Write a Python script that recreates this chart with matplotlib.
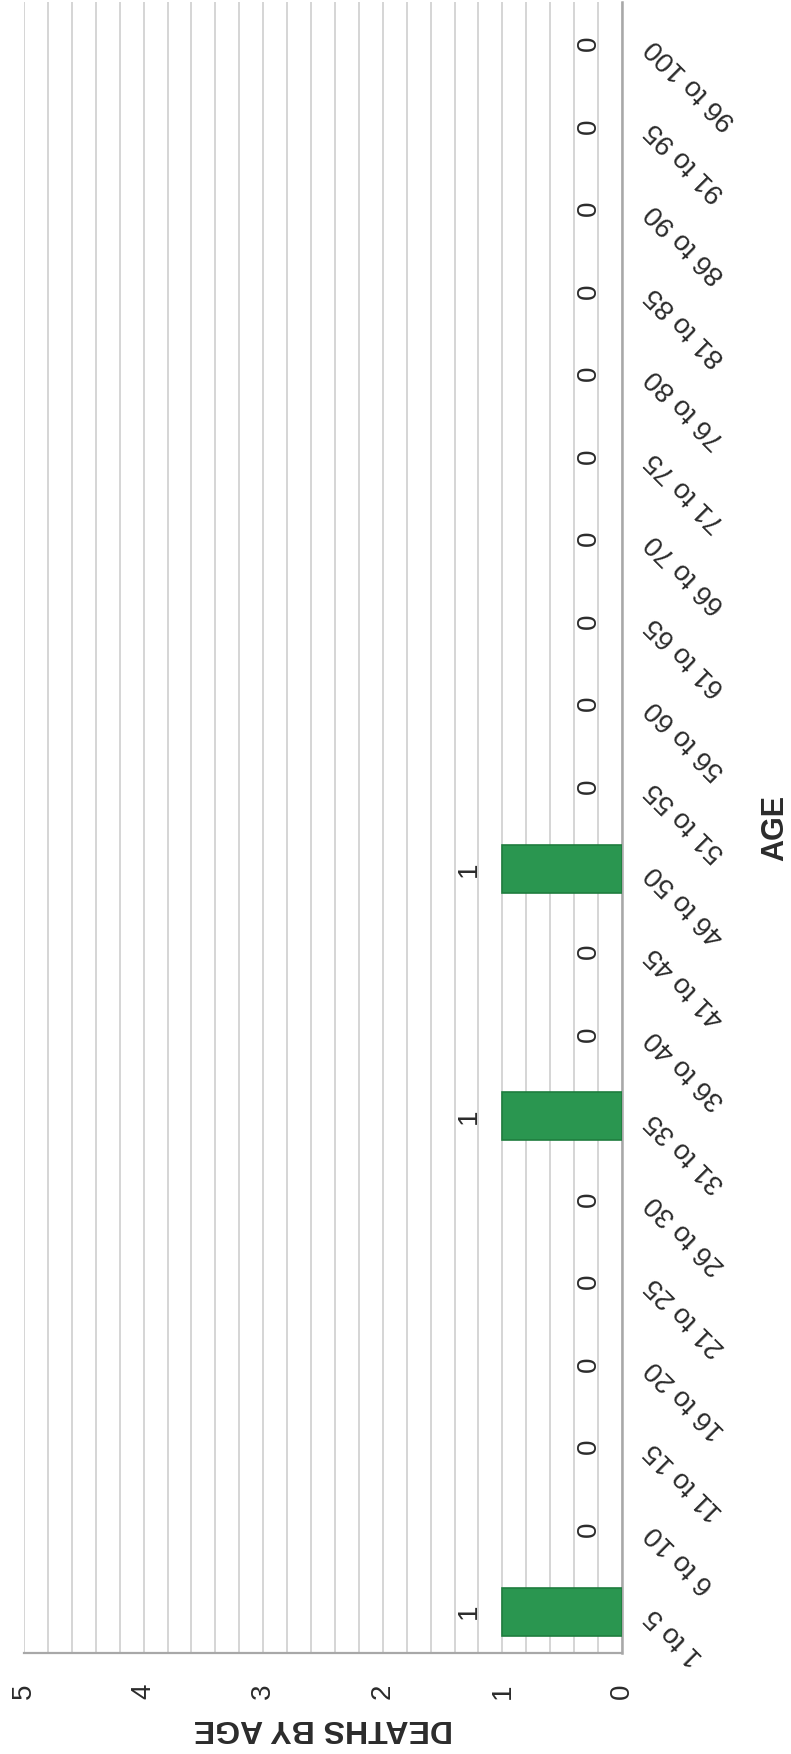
import matplotlib
matplotlib.use("Agg")
import matplotlib.pyplot as plt
import numpy as np
from matplotlib.ticker import MultipleLocator

plt.rcParams['font.family'] = ['Liberation Sans', 'DejaVu Sans']

categories = ["1 to 5", "6 to 10", "11 to 15", "16 to 20", "21 to 25", "26 to 30",
              "31 to 35", "36 to 40", "41 to 45", "46 to 50", "51 to 55", "56 to 60",
              "61 to 65", "66 to 70", "71 to 75", "76 to 80", "81 to 85", "86 to 90",
              "91 to 95", "96 to 100"]
deaths = [1, 0, 0, 0, 0, 0, 1, 0, 0, 1, 0, 0, 0, 0, 0, 0, 0, 0, 0, 0]
value_ticks = [0, 1, 2, 3, 4, 5]

W, H = 791, 1754
fig = plt.figure(figsize=(W / 100, H / 100), dpi=100)
left_px, right_px, top_px, bottom_px = 24, 622, 2, 1653
ax = fig.add_axes([left_px / W, 1 - bottom_px / H,
                   (right_px - left_px) / W, (bottom_px - top_px) / H])

text_col = '#2b2b2b'
grid_col = '#d2d2d2'
axis_col = '#a8a8a8'

y = np.arange(len(categories))
edge_widths = [1.2 if v else 0 for v in deaths]
bars = ax.barh(y, deaths, height=0.58, color='#2a9650', edgecolor='#1f7d3e',
               linewidth=edge_widths, zorder=3)

ax.set_xlim(5, 0)
ax.set_ylim(-0.5, len(categories) - 0.5)

# gridlines every 0.2
ax.xaxis.set_minor_locator(MultipleLocator(0.2))
ax.set_xticks(value_ticks)
ax.grid(True, axis='x', which='both', color=grid_col, linewidth=1.3, zorder=0)
ax.set_axisbelow(True)

for s in ['top', 'left']:
    ax.spines[s].set_visible(False)
ax.spines['bottom'].set_color(axis_col)
ax.spines['bottom'].set_linewidth(1.6)
ax.spines['right'].set_color(axis_col)
ax.spines['right'].set_linewidth(1.8)

# value axis labels (bottom), rotated
ax.tick_params(axis='x', which='both', length=0, pad=22, labelsize=20,
               labelcolor=text_col)
for lbl in ax.get_xticklabels():
    lbl.set_rotation(90)
    lbl.set_va('top')
    lbl.set_ha('center')

# category labels on the right
ax.yaxis.tick_right()
ax.set_yticks(y)
ax.set_yticklabels(categories)
ax.tick_params(axis='y', length=0, pad=20, labelsize=20, labelcolor=text_col)
for lbl in ax.get_yticklabels():
    lbl.set_rotation(135)
    lbl.set_rotation_mode('anchor')
    lbl.set_ha('right')
    lbl.set_va('center')

# value labels
for yi, v in zip(y, deaths):
    ax.annotate(f"{v}", xy=(v, yi), xytext=(-24, 0), textcoords='offset points',
                rotation=90, ha='center', va='center', fontsize=20,
                color=text_col, zorder=4)

# axis titles
ax.set_xlabel("DEATHS BY AGE", fontsize=23, fontweight='bold', color=text_col,
              rotation=180)
ax.xaxis.set_label_coords(0.5, (bottom_px - 1728) / (bottom_px - top_px))
ax.xaxis.label.set_va('center')
ax.xaxis.label.set_ha('center')

ax.yaxis.set_label_position('right')
ax.set_ylabel("AGE", fontsize=22, fontweight='bold', color=text_col, rotation=90)
ax.yaxis.set_label_coords((775 - left_px) / (right_px - left_px), 0.5)
ax.yaxis.label.set_va('center')
ax.yaxis.label.set_ha('center')

fig.savefig("out.png", dpi=100, facecolor='white')
